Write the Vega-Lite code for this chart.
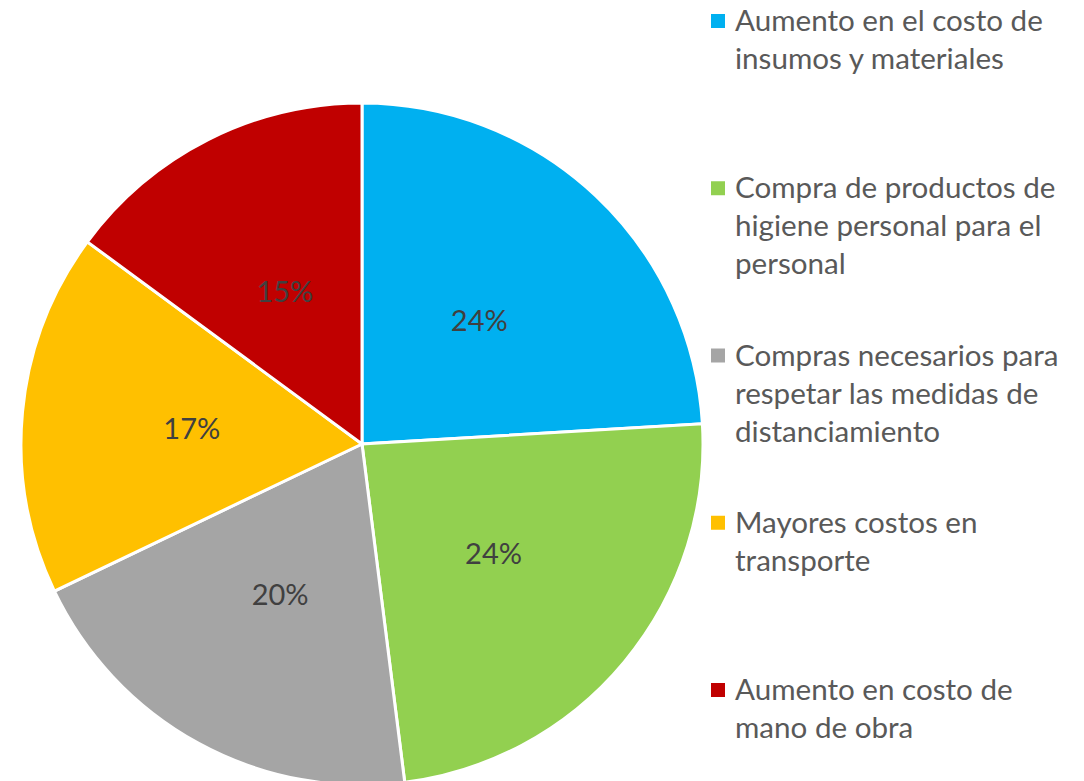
{
  "$schema": "https://vega.github.io/schema/vega-lite/v6.json",
  "width": 1084,
  "height": 781,
  "autosize": {"type": "fit", "contains": "padding"},
  "padding": 0,
  "background": "white",
  "config": {"view": {"stroke": null}},
  "data": {
    "values": [
      {"cat": "Aumento en el costo de insumos y materiales", "label": "Aumento en el costo de\ninsumos y materiales", "share": 0.2406, "order": 1},
      {"cat": "Compra de productos de higiene personal para el personal", "label": "Compra de productos de\nhigiene personal para el\npersonal", "share": 0.2394, "order": 2},
      {"cat": "Compras necesarios para respetar las medidas de distanciamiento", "label": "Compras necesarios para\nrespetar las medidas de\ndistanciamiento", "share": 0.1990, "order": 3},
      {"cat": "Mayores costos en transporte", "label": "Mayores costos en\ntransporte", "share": 0.1720, "order": 4},
      {"cat": "Aumento en costo de mano de obra", "label": "Aumento en costo de\nmano de obra", "share": 0.1490, "order": 5}
    ]
  },
  "layer": [
    {
      "mark": {"type": "arc", "x": 362, "y": 444, "outerRadius": 341, "stroke": "white", "strokeWidth": 3},
      "encoding": {
        "theta": {"field": "share", "type": "quantitative", "stack": true},
        "order": {"field": "order", "type": "quantitative"},
        "color": {
          "field": "cat", "type": "nominal", "legend": null,
          "scale": {
            "domain": ["Aumento en el costo de insumos y materiales", "Compra de productos de higiene personal para el personal", "Compras necesarios para respetar las medidas de distanciamiento", "Mayores costos en transporte", "Aumento en costo de mano de obra"],
            "range": ["#00B0F0", "#92D050", "#A5A5A5", "#FFC000", "#C00000"]
          }
        }
      }
    },
    {
      "mark": {"type": "text", "x": 362, "y": 444, "radius": 171, "font": "Lato", "fontSize": 29, "fill": "#404040", "align": "center", "baseline": "middle", "dy": 2},
      "encoding": {
        "theta": {"field": "share", "type": "quantitative", "stack": true},
        "order": {"field": "order", "type": "quantitative"},
        "detail": {"field": "cat", "type": "nominal"},
        "text": {"field": "share", "type": "quantitative", "format": ".0%"}
      }
    },
    {
      "mark": {"type": "square", "filled": true, "size": 196, "opacity": 1},
      "encoding": {
        "x": {"value": 718},
        "y": {"field": "order", "type": "ordinal", "axis": null, "scale": {"type": "point", "range": [21, 690], "padding": 0}},
        "color": {"field": "cat", "type": "nominal", "legend": null}
      }
    },
    {
      "mark": {"type": "text", "font": "Lato", "fontSize": 29.6, "fill": "#595959", "align": "left", "baseline": "alphabetic", "dy": 10, "lineBreak": "\n", "lineHeight": 38},
      "encoding": {
        "x": {"value": 735},
        "y": {"field": "order", "type": "ordinal", "axis": null, "scale": {"type": "point", "range": [21, 690], "padding": 0}},
        "text": {"field": "label", "type": "nominal"}
      }
    }
  ]
}
